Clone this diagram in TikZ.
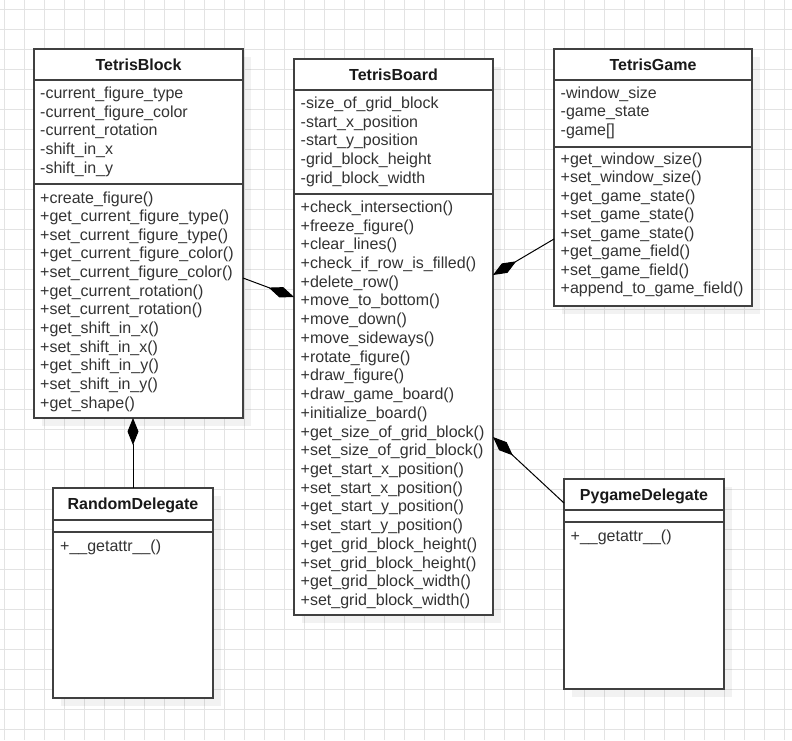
\documentclass[tikz,border=0pt]{standalone}
\usepackage{fontspec}
\setmainfont{Liberation Sans}
\usetikzlibrary{arrows.meta}
\begin{document}
\begin{tikzpicture}[x=1pt,y=-1pt,
  gridline/.style={draw=black!11,line width=0.9pt},
  classbox/.style={draw=black!75,line width=1.2pt,fill=white,anchor=north west,inner sep=0pt,outer sep=0pt},
  shadowbox/.style={fill=black,opacity=0.05,draw=none,anchor=north west,inner sep=0pt,outer sep=0pt},
  sepline/.style={draw=black!75,line width=1.2pt},
  title/.style={anchor=base,font=\bfseries\fontsize{16}{19}\selectfont,text=black!90,inner sep=0pt},
  row/.style={anchor=base west,font=\fontsize{16}{19}\selectfont,text=black!80,inner sep=0pt},
  comp/.style={draw=black,line width=1pt,-{Diamond[length=27pt,width=11pt,fill=black]}},
]
\useasboundingbox (0,0) rectangle (792,740);
\fill[white] (0,0) rectangle (792,740);
% grid
\foreach \gx in {4,24,...,784} \draw[gridline] (\gx,0) -- (\gx,740);
\foreach \gy in {9,29,...,729} \draw[gridline] (0,\gy) -- (792,\gy);

% ---------- TetrisBlock ----------
\node[shadowbox,minimum width=209pt,minimum height=369pt] (blockshadow) at (42,57) {};
\node[classbox,minimum width=209pt,minimum height=369pt] (block) at (34,49) {};
\draw[sepline] ([yshift=-31pt]block.north west) -- ([yshift=-31pt]block.north east);
\draw[sepline] ([yshift=-135pt]block.north west) -- ([yshift=-135pt]block.north east);
\node[title] (blocktitle) at (138.5,70) {TetrisBlock};
\foreach \txt [count=\i] in {-current\_figure\_type,-current\_figure\_color,-current\_rotation,-shift\_in\_x,-shift\_in\_y}
  \node[row] (blocka\i) at (40,{98.5+(\i-1)*18.65}) {\txt};
\foreach \txt [count=\i] in {+create\_figure(),+get\_current\_figure\_type(),+set\_current\_figure\_type(),+get\_current\_figure\_color(),+set\_current\_figure\_color(),+get\_current\_rotation(),+set\_current\_rotation(),+get\_shift\_in\_x(),+set\_shift\_in\_x(),+get\_shift\_in\_y(),+set\_shift\_in\_y(),+get\_shape()}
  \node[row] (blockm\i) at (40,{203+(\i-1)*18.65}) {\txt};

% ---------- TetrisBoard ----------
\node[shadowbox,minimum width=199pt,minimum height=556pt] (boardshadow) at (302,67) {};
\node[classbox,minimum width=199pt,minimum height=556pt] (board) at (294,59) {};
\draw[sepline] ([yshift=-31pt]board.north west) -- ([yshift=-31pt]board.north east);
\draw[sepline] ([yshift=-135pt]board.north west) -- ([yshift=-135pt]board.north east);
\node[title] (boardtitle) at (393.5,80) {TetrisBoard};
\foreach \txt [count=\i] in {-size\_of\_grid\_block,-start\_x\_position,-start\_y\_position,-grid\_block\_height,-grid\_block\_width}
  \node[row] (boarda\i) at (300.5,{108.3+(\i-1)*18.7}) {\txt};
\foreach \txt [count=\i] in {+check\_intersection(),+freeze\_figure(),+clear\_lines(),+check\_if\_row\_is\_filled(),+delete\_row(),+move\_to\_bottom(),+move\_down(),+move\_sideways(),+rotate\_figure(),+draw\_figure(),+draw\_game\_board(),+initialize\_board(),+get\_size\_of\_grid\_block(),+set\_size\_of\_grid\_block(),+get\_start\_x\_position(),+set\_start\_x\_position(),+get\_start\_y\_position(),+set\_start\_y\_position(),+get\_grid\_block\_height(),+set\_grid\_block\_height(),+get\_grid\_block\_width(),+set\_grid\_block\_width()}
  \node[row] (boardm\i) at (300.5,{212.3+(\i-1)*18.73}) {\txt};

% ---------- TetrisGame ----------
\node[shadowbox,minimum width=198pt,minimum height=257pt] (gameshadow) at (562,57) {};
\node[classbox,minimum width=198pt,minimum height=257pt] (game) at (554,49) {};
\draw[sepline] ([yshift=-31pt]game.north west) -- ([yshift=-31pt]game.north east);
\draw[sepline] ([yshift=-98pt]game.north west) -- ([yshift=-98pt]game.north east);
\node[title] (gametitle) at (653,70) {TetrisGame};
\foreach \txt [count=\i] in {-window\_size,-game\_state,-game[]}
  \node[row] (gamea\i) at (560.5,{98.3+(\i-1)*18.6}) {\txt};
\foreach \txt [count=\i] in {+get\_window\_size(),+set\_window\_size(),+get\_game\_state(),+set\_game\_state(),+set\_game\_state(),+get\_game\_field(),+set\_game\_field(),+append\_to\_game\_field()}
  \node[row] (gamem\i) at (560.5,{164.3+(\i-1)*18.5}) {\txt};

% ---------- RandomDelegate ----------
\node[shadowbox,minimum width=160pt,minimum height=210pt] (randomshadow) at (61,496) {};
\node[classbox,minimum width=160pt,minimum height=210pt] (random) at (53,488) {};
\draw[sepline] ([yshift=-32pt]random.north west) -- ([yshift=-32pt]random.north east);
\draw[sepline] ([yshift=-44pt]random.north west) -- ([yshift=-44pt]random.north east);
\node[title] (randomtitle) at (133,509.5) {RandomDelegate};
\node[row] (randomm1) at (60,551) {+\_\_getattr\_\_()};

% ---------- PygameDelegate ----------
\node[shadowbox,minimum width=160pt,minimum height=210pt] (pygameshadow) at (572,487) {};
\node[classbox,minimum width=160pt,minimum height=210pt] (pygame) at (564,479) {};
\draw[sepline] ([yshift=-31pt]pygame.north west) -- ([yshift=-31pt]pygame.north east);
\draw[sepline] ([yshift=-43pt]pygame.north west) -- ([yshift=-43pt]pygame.north east);
\node[title] (pygametitle) at (644,500) {PygameDelegate};
\node[row] (pygamem1) at (570.5,541.5) {+\_\_getattr\_\_()};

% ---------- connectors (composition) ----------
\draw[comp] ([yshift=-229pt]block.north east) -- ([yshift=-238pt]board.north west);
\draw[comp] ([yshift=-190pt]game.north west) -- ([yshift=-216pt]board.north east);
\draw[comp] ([yshift=-24pt]pygame.north west) -- ([yshift=-378pt]board.north east);
\draw[comp] (random.north) -- (random.north |- block.south);
\end{tikzpicture}
\end{document}
